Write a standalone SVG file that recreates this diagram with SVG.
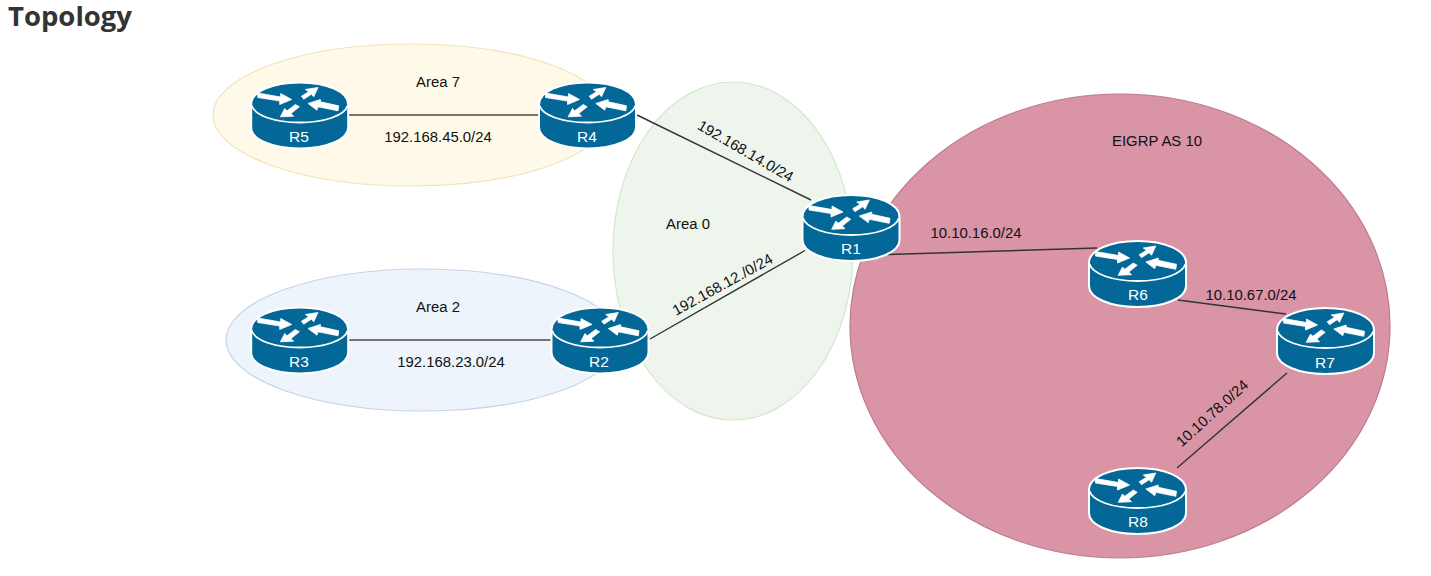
<svg xmlns="http://www.w3.org/2000/svg" width="1431" height="576" viewBox="0 0 1431 576">
<style>
.lbl{font-family:"Liberation Sans",Arial,sans-serif;font-size:14.9px;fill:#111;text-anchor:middle}
.rl{font-family:"Liberation Sans",Arial,sans-serif;font-size:15.5px;fill:#fff;text-anchor:middle}
.title{font-family:"Open Sans","Noto Sans",sans-serif;font-size:27.5px;font-weight:700;fill:#333}
.conn{stroke:#333;stroke-width:1.4;fill:none}
.conn2{stroke:#77756c;stroke-width:2;fill:none}
</style>
<defs>
<g id="router">
<path d="M-48.5 22V45C-48.5 57 -27 66 0 66S48.5 57 48.5 45V22C48.5 9 27 0 0 0S-48.5 9 -48.5 22Z" fill="#036897" stroke="#fff" stroke-width="2"/>
<path d="M-48 23C-45 33 -25 40 0 40S45 33 48 23" fill="none" stroke="#fff" stroke-width="1.8"/>
<path fill="#fff" stroke="#fff" stroke-width="0.8" stroke-linejoin="round" d="M-42 10.5L-19 14.5L-19 11L-8 17L-20 22L-20 18.5L-42 15ZM1.7 13.7L9 9.3L5.7 7L18.3 5L14 14.3L11.7 11.7L4 16.7ZM39 23.3L20.7 19.3L20.7 17L8.3 21L17.3 27.7L18.3 24.3L38.3 28.3ZM-4.3 22L-12.7 28.3L-15 26L-19.3 34.3L-6 33.7L-8.7 31L-0.3 24.3Z"/>
</g>
</defs>
<rect width="1431" height="576" fill="#fff"/>
<text class="title" x="8" y="26">Topology</text>
<g id="area7"><ellipse cx="411" cy="115" rx="198" ry="71" fill="#fff9ea" stroke="#f2e2b8" stroke-width="1.2"/><text class="lbl" x="438" y="87">Area 7</text></g>
<g id="area2"><ellipse cx="423" cy="340" rx="197" ry="71" fill="#edf4fc" stroke="#c5d3e8" stroke-width="1.2"/><text class="lbl" x="438" y="312">Area 2</text></g>
<g id="area0"><ellipse cx="733" cy="251" rx="120" ry="169" fill="#eef5ec" stroke="#d5e5cd" stroke-width="1.2"/><text class="lbl" x="688" y="229">Area 0</text></g>
<g id="eigrp"><ellipse cx="1120" cy="326" rx="270" ry="232" fill="#d994a6" stroke="#bd7b8e" stroke-width="1.2"/><text class="lbl" x="1157" y="146">EIGRP AS 10</text></g>
<g id="connectors">
<line class="conn2" x1="346" y1="115" x2="541" y2="115"/>
<line class="conn2" x1="346" y1="340" x2="554" y2="340"/>
<line class="conn" x1="637" y1="115" x2="811" y2="200"/>
<line class="conn" x1="650" y1="339" x2="805" y2="250.5"/>
<line class="conn" x1="888" y1="254.5" x2="1097" y2="248"/>
<line class="conn" x1="1178" y1="300" x2="1286" y2="314"/>
<line class="conn" x1="1287" y1="373" x2="1177" y2="468"/>
</g>
<g id="labels">
<text class="lbl" x="438" y="142">192.168.45.0/24</text>
<text class="lbl" x="451" y="367">192.168.23.0/24</text>
<text class="lbl" transform="translate(743 155.5) rotate(30)">192.168.14.0/24</text>
<text class="lbl" transform="translate(725 289) rotate(-29)">192.168.12./0/24</text>
<text class="lbl" x="976" y="238">10.10.16.0/24</text>
<text class="lbl" x="1251" y="300">10.10.67.0/24</text>
<text class="lbl" transform="translate(1215.5 417) rotate(-42)">10.10.78.0/24</text>
</g>
<g id="R5"><use href="#router" x="299.7" y="82.5"/><text class="rl" x="299" y="142">R5</text></g>
<g id="R4"><use href="#router" x="587.5" y="82.5"/><text class="rl" x="587" y="142">R4</text></g>
<g id="R3"><use href="#router" x="299.7" y="307.5"/><text class="rl" x="299" y="367">R3</text></g>
<g id="R2"><use href="#router" x="600" y="307.5"/><text class="rl" x="599" y="367">R2</text></g>
<g id="R1"><use href="#router" x="851" y="195"/><text class="rl" x="851" y="254">R1</text></g>
<g id="R6"><use href="#router" x="1137.5" y="241"/><text class="rl" x="1138" y="300">R6</text></g>
<g id="R7"><use href="#router" x="1325.5" y="308"/><text class="rl" x="1325" y="367.5">R7</text></g>
<g id="R8"><use href="#router" x="1137.5" y="468"/><text class="rl" x="1138" y="527">R8</text></g>
</svg>
